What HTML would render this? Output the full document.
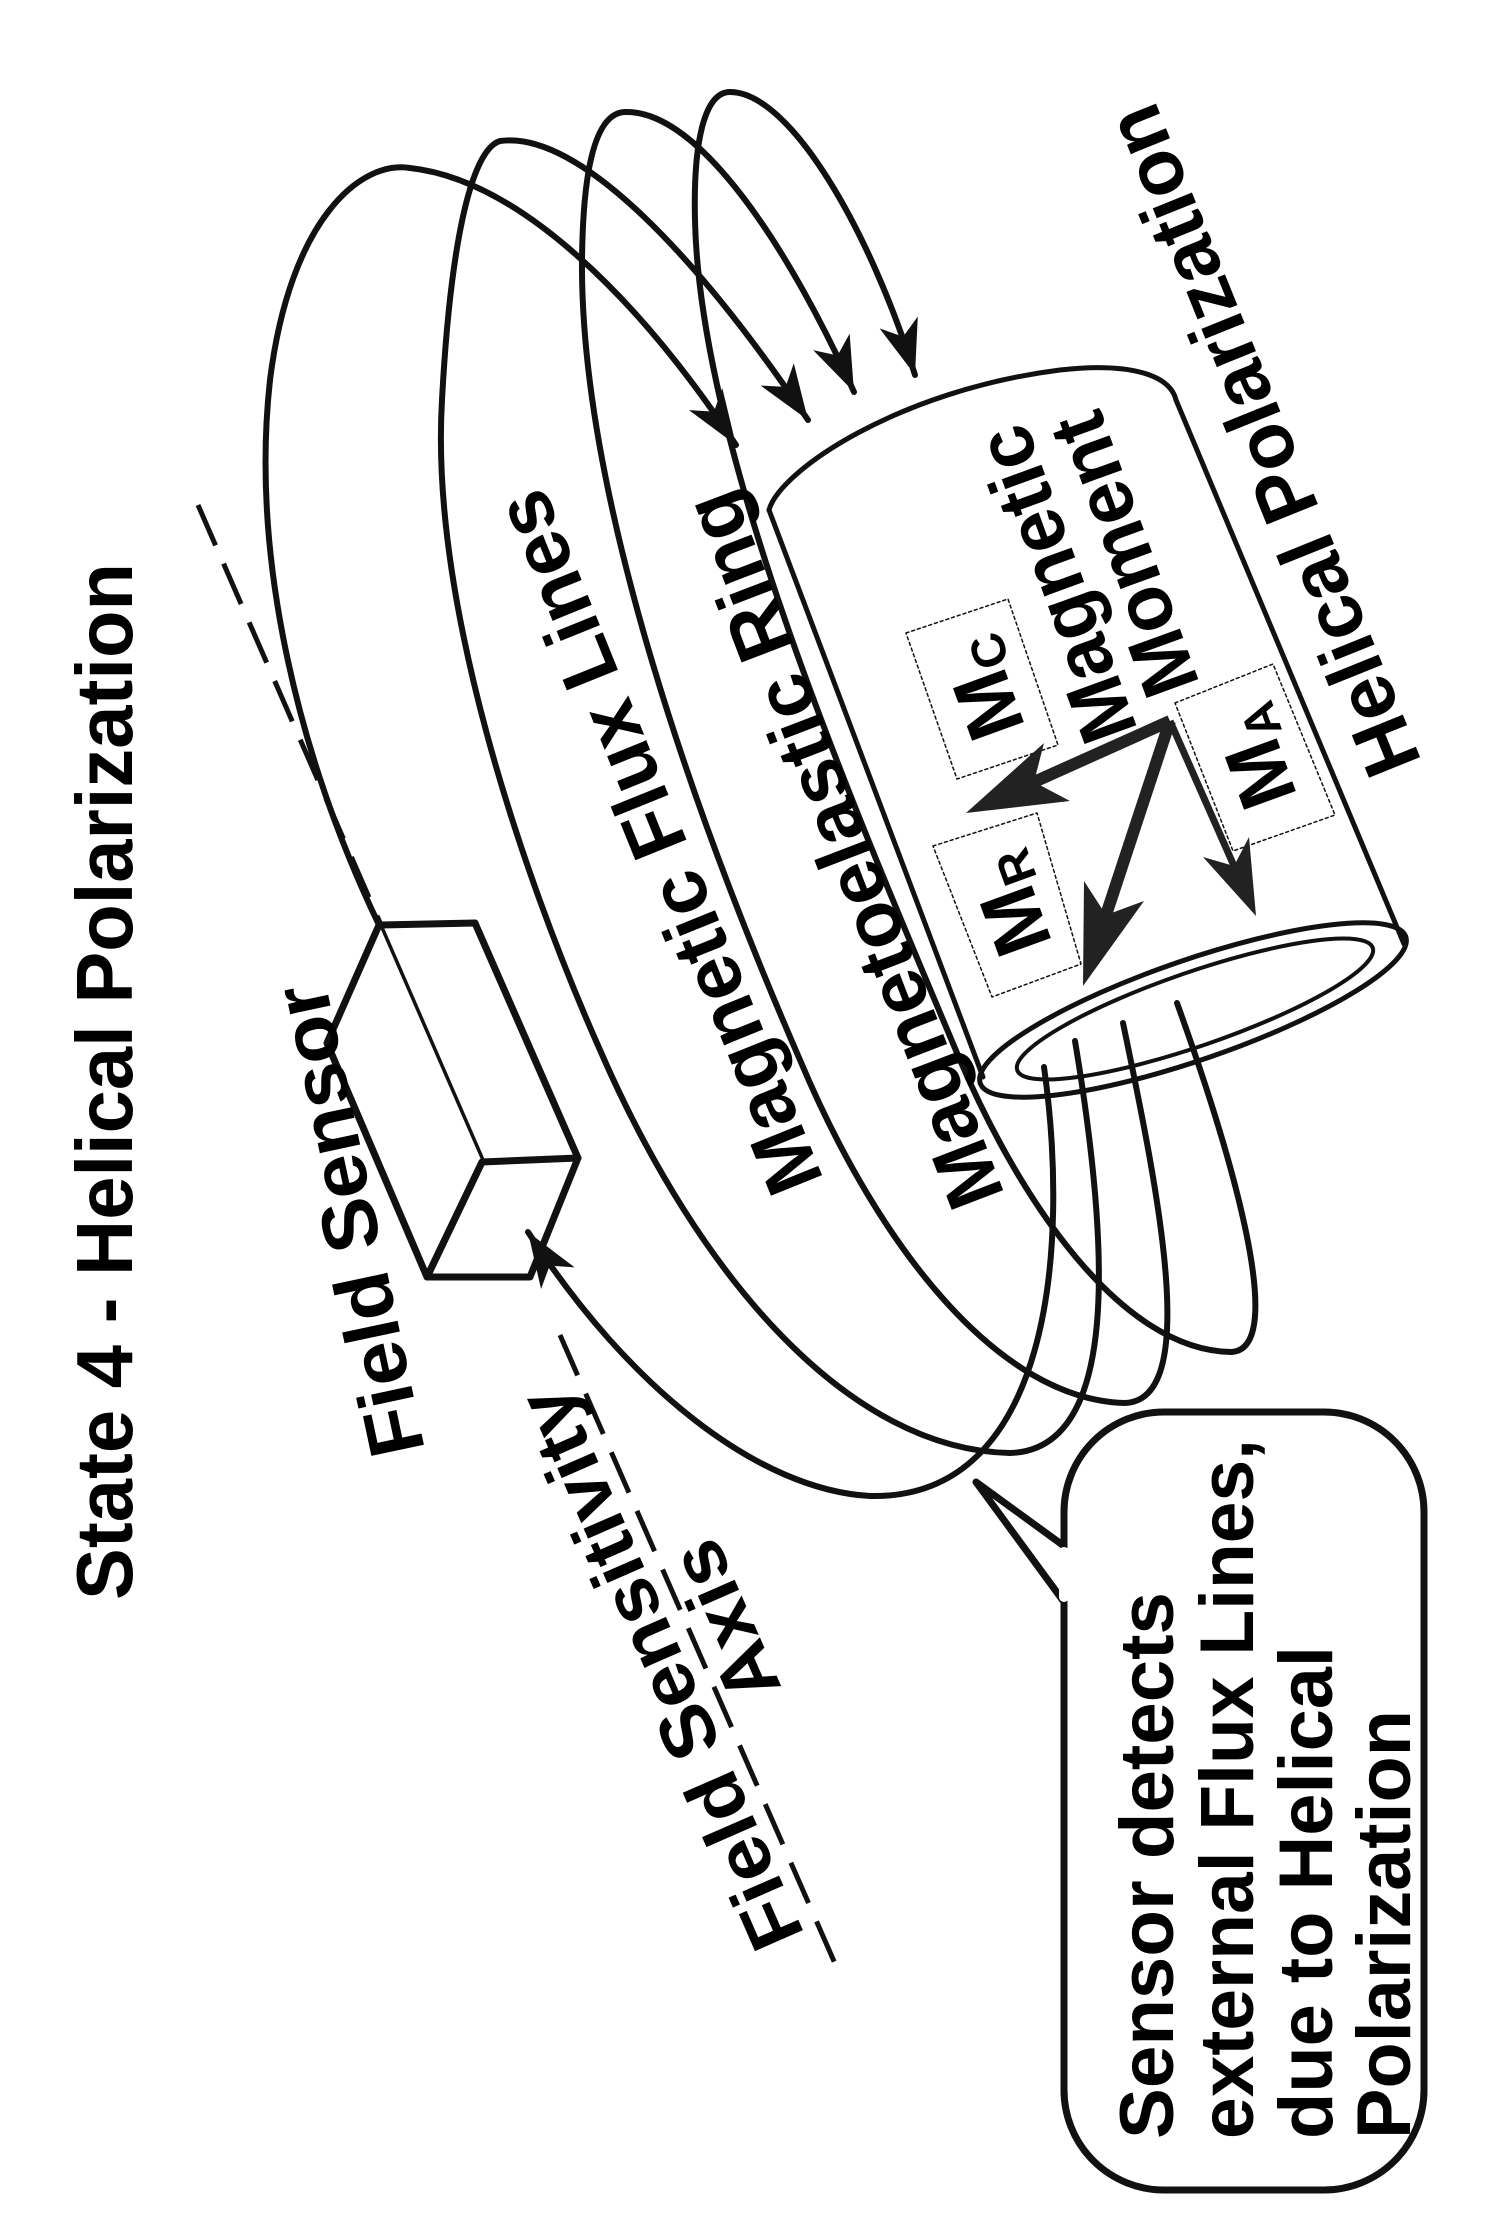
<!DOCTYPE html>
<html>
<head>
<meta charset="utf-8">
<style>
  html,body{margin:0;padding:0;background:#fff;}
  svg{display:block;}
  text{font-family:"Liberation Sans",Arial,sans-serif;font-weight:bold;fill:#000;}
</style>
</head>
<body>
<svg width="1500" height="2224" viewBox="0 0 1500 2224" xmlns="http://www.w3.org/2000/svg">
  <defs>
    <marker id="ah" markerUnits="userSpaceOnUse" viewBox="-60 -25 65 50" refX="0" refY="0" markerWidth="65" markerHeight="50" orient="auto">
      <path d="M0,0 L-55,-20 L-40,0 L-55,20 Z" fill="#111"/>
    </marker>
  </defs>

  <g fill="none" stroke="#111" stroke-width="6" stroke-linecap="round" stroke-linejoin="round">
    <!-- dashed field sensitivity axis -->
    <path d="M198,505 L381,925" stroke-width="5" stroke-dasharray="44 20" stroke-linecap="butt"/>
    <path d="M560,1335 L840,1975" stroke-width="5" stroke-dasharray="44 20" stroke-linecap="butt"/>

    <!-- flux loops -->
    <path d="M1044,1067 C1070,1250 1050,1500 870,1496 C760,1490 630,1390 528,1232" marker-end="url(#ah)"/>
    <path d="M379,925 C300,760 250,560 270,380 C290,220 360,160 410,168 C520,180 640,300 736,445" marker-end="url(#ah)"/>
    <path d="M1075,1041 C1110,1250 1120,1450 1010,1453 C850,1450 700,1280 600,1050 C520,870 430,600 442,400 C450,250 470,150 500,141 C580,130 700,260 808,420" marker-end="url(#ah)"/>
    <path d="M1123,1023 C1160,1200 1200,1400 1125,1403 C1000,1400 880,1250 800,1060 C700,830 580,500 582,260 C583,170 595,113 625,112 C700,110 790,250 854,392" marker-end="url(#ah)"/>
    <path d="M1177,1003 C1230,1150 1290,1350 1231,1352 C1120,1350 1020,1200 960,1060 C850,800 700,450 695,220 C693,140 705,92 730,92 C790,92 870,230 915,375" marker-end="url(#ah)"/>

    <!-- cylinder -->
    <path d="M769,510 C780,470 900,390 1060,370 C1130,362 1170,375 1176,400" stroke-width="5"/>
    <path d="M769,510 L983,1077" stroke-width="5"/>
    <path d="M1176,400 L1404,944" stroke-width="5"/>
    <ellipse cx="1193" cy="1010" rx="225" ry="50" transform="rotate(-19 1193 1010)" stroke-width="5"/>
    <ellipse cx="1195" cy="1009" rx="188" ry="37" transform="rotate(-19 1195 1009)" stroke-width="4"/>

    <!-- field sensor box -->
    <path d="M379,925 L475,923 L578,1158 L482,1162 Z" fill="#fff" stroke-width="7"/>
    <path d="M379,925 L327,1043 L427,1277 L482,1162" fill="#fff" stroke-width="7"/>
    <path d="M482,1162 L427,1277 L530,1277 L578,1158" stroke-width="7"/>

    <!-- callout -->
    <rect x="1064" y="1412" width="360" height="778" rx="100" ry="100" fill="#fff" stroke-width="7"/>
    <path d="M1064,1546 L976,1482 L1064,1602" fill="#fff" stroke-width="7"/>
    <path d="M1064,1552 L1064,1597" stroke="#fff" stroke-width="10"/>

    <!-- M boxes (dotted) -->
    <path d="M906,633 L1008,599 L1058,745 L957,779 Z" stroke-width="1.5" stroke-dasharray="3 3" fill="#fff"/>
    <path d="M933,846 L1037,813 L1081,964 L992,997 Z" stroke-width="1.5" stroke-dasharray="3 3" fill="#fff"/>
    <path d="M1175,703 L1273,664 L1335,815 L1233,851 Z" stroke-width="1.5" stroke-dasharray="3 3" fill="#fff"/>

    <!-- magnetic moment arrows -->
    <path d="M1170,721 L1034,782" stroke-width="12" stroke="#222" stroke-linecap="butt"/>
    <path d="M1170,721 L1106,915" stroke-width="12" stroke="#222" stroke-linecap="butt"/>
    <path d="M1170,721 L1234,866" stroke-width="7" stroke="#222" stroke-linecap="butt"/>
  </g>
  <polygon points="966,813 1070,801 1034,782 1044,743" fill="#222"/>
  <polygon points="1083,986 1144,901 1106,915 1084,881" fill="#222"/>
  <polygon points="1256,916 1249,837 1234,866 1203,857" fill="#222"/>

  <!-- text -->
  <text font-size="80" textLength="1037" lengthAdjust="spacingAndGlyphs" transform="translate(132,1600) rotate(-90)">State 4 - Helical Polarization</text>
  <text font-size="78" textLength="480" lengthAdjust="spacingAndGlyphs" transform="translate(425,1450) rotate(-102)">Field Sensor</text>
  <text font-size="76" textLength="603" lengthAdjust="spacingAndGlyphs" transform="translate(805,1935) rotate(-113.6)">Field Sensitivity</text>
  <text font-size="76" textLength="168" lengthAdjust="spacingAndGlyphs" transform="translate(782,1688) rotate(-113.6)">Axis</text>
  <text font-size="80" textLength="750" lengthAdjust="spacingAndGlyphs" transform="translate(824,1180) rotate(-112)">Magnetic Flux Lines</text>
  <text font-size="80" textLength="760" lengthAdjust="spacingAndGlyphs" transform="translate(1005,1195) rotate(-111)">Magnetoelastic Ring</text>
  <text font-size="80" textLength="330" lengthAdjust="spacingAndGlyphs" transform="translate(1138,730) rotate(-110)">Magnetic</text>
  <text font-size="80" textLength="295" lengthAdjust="spacingAndGlyphs" transform="translate(1200,684) rotate(-110)">Moment</text>
  <text font-size="80" textLength="715" lengthAdjust="spacingAndGlyphs" transform="translate(1422,762) rotate(-112)">Helical Polarization</text>

  <text font-size="80" text-anchor="middle" transform="translate(982,689) rotate(-110)" y="28">M<tspan font-size="48" dy="8">C</tspan></text>
  <text font-size="80" text-anchor="middle" transform="translate(1009,905) rotate(-110)" y="28">M<tspan font-size="48" dy="8">R</tspan></text>
  <text font-size="80" text-anchor="middle" transform="translate(1254,758) rotate(-110)" y="28">M<tspan font-size="48" dy="8">A</tspan></text>

  <text font-size="76" textLength="547" lengthAdjust="spacingAndGlyphs" transform="translate(1173,2139) rotate(-90)">Sensor detects</text>
  <text font-size="76" textLength="700" lengthAdjust="spacingAndGlyphs" transform="translate(1253,2139) rotate(-90)">external Flux Lines,</text>
  <text font-size="76" textLength="493" lengthAdjust="spacingAndGlyphs" transform="translate(1332,2139) rotate(-90)">due to Helical</text>
  <text font-size="76" textLength="429" lengthAdjust="spacingAndGlyphs" transform="translate(1410,2139) rotate(-90)">Polarization</text>
</svg>
</body>
</html>
